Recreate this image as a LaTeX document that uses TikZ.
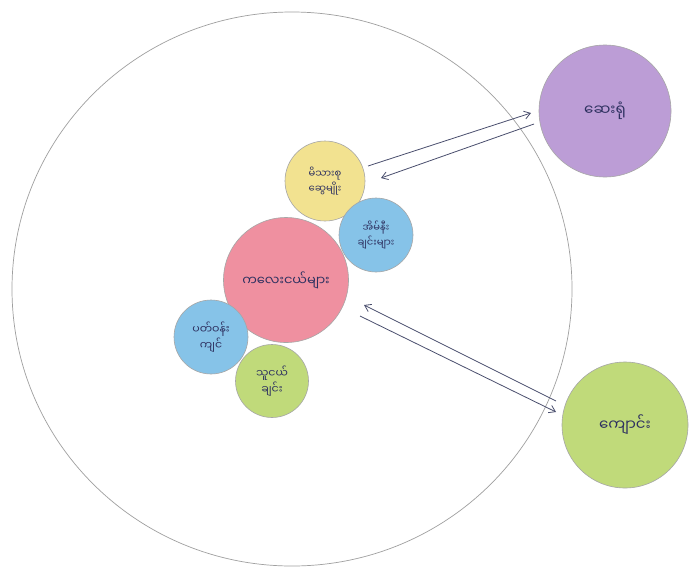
\documentclass[tikz,border=0pt]{standalone}
\usepackage{fontspec}
\newfontfamily\mmfont[Script=Myanmar]{Noto Sans Myanmar UI}
\usetikzlibrary{arrows.meta}
\definecolor{inkc}{HTML}{2E3160}
\definecolor{linec}{HTML}{4A4F6E}
\definecolor{purplef}{HTML}{BC9DD6}
\definecolor{yellowf}{HTML}{F2E290}
\definecolor{bluef}{HTML}{86C3E8}
\definecolor{pinkf}{HTML}{EF90A0}
\definecolor{greenf}{HTML}{C0DA7A}
\tikzset{
  bubble/.style={circle, draw=gray!70, line width=0.6pt, inner sep=0pt, align=center,
    font=\mmfont\fontsize{11}{12}\selectfont, text=inkc},
  flow/.style={draw=linec, line width=0.8pt, -{Straight Barb[length=6pt,width=8pt]}},
}
\begin{document}
\begin{tikzpicture}[x=1pt,y=-1pt]
\useasboundingbox (0,0) rectangle (692,568);
\fill[white] (0,0) rectangle (692,568);
% outer system
\draw[gray!75, line width=0.7pt] (292,289) ellipse [x radius=280, y radius=277];
% outer circles
\node[bubble, fill=purplef, minimum size=132pt, font=\mmfont\fontsize{15}{17}\selectfont] (hosp) at (605,111) {ဆေးရုံ};
\node[bubble, fill=greenf, minimum size=126pt, font=\mmfont\fontsize{15}{17}\selectfont] (school) at (625,425) {ကျောင်း};
% inner circles (centre first, the others lie over it)
\node[bubble, fill=pinkf, minimum size=125pt, font=\mmfont\fontsize{13}{15}\selectfont] (child) at (286,280) {ကလေးငယ်များ};
\node[bubble, fill=yellowf, minimum size=80pt, font=\mmfont\fontsize{10}{11}\selectfont] (fam) at (325,181) {မိသားစု\\ဆွေမျိုး};
\node[bubble, fill=bluef, minimum size=74pt, font=\mmfont\fontsize{10}{11}\selectfont] (neigh) at (376,235) {အိမ်နီး\\ချင်းများ};
\node[bubble, fill=bluef, minimum size=74pt] (env) at (211,337) {ပတ်ဝန်း\\ကျင်};
\node[bubble, fill=greenf, minimum size=73pt] (friend) at (272,381) {သူငယ်\\ချင်း};
% arrow end points
\coordinate (a1s) at (368,166);
\coordinate (a1e) at (531,113);
\coordinate (a2s) at (534,124);
\coordinate (a2e) at (381,178);
\coordinate (b1s) at (556,401);
\coordinate (b1e) at (364,305);
\coordinate (b2s) at (360,316);
\coordinate (b2e) at (556,412);
\draw[flow] (a1s) -- (a1e);
\draw[flow] (a2s) -- (a2e);
\draw[flow] (b1s) -- (b1e);
\draw[flow] (b2s) -- (b2e);
\end{tikzpicture}
\end{document}
